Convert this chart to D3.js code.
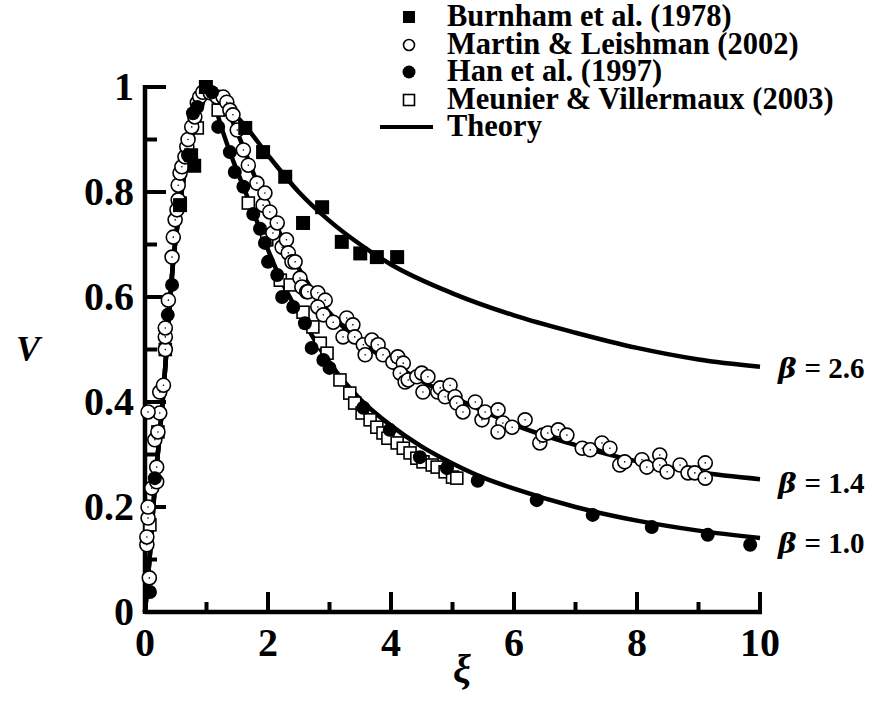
<!DOCTYPE html>
<html><head><meta charset="utf-8">
<script src="https://cdn.jsdelivr.net/npm/d3@7"></script>
<style>
body{margin:0;background:#fff;}
text{font-family:"Liberation Serif","Times New Roman",serif;font-weight:bold;fill:#000;}
</style></head>
<body><svg id="c" width="880" height="709"></svg>
<script>
// ---- data (ξ, V) ----
const xTicks = [0,2,4,6,8,10];
const yTicks = [0,0.2,0.4,0.6,0.8,1];
const yTickLabels = ["0","0.2","0.4","0.6","0.8","1"];

const theoryRise = [[0,0],[0.08,0.11],[0.16,0.24],[0.24,0.34],[0.3,0.42],[0.35,0.5],[0.4,0.58],[0.46,0.67],[0.52,0.73],[0.57,0.78],[0.65,0.84],[0.73,0.89],[0.85,0.95],[0.95,0.99],[1,1]];
const theoryB26 = [[1.2,0.975],[1.6,0.93],[2.0,0.87],[2.5,0.80],[3.0,0.745],[3.5,0.70],[4,0.662],[5,0.607],[6,0.565],[7,0.532],[8,0.503],[9,0.481],[10,0.467]];
const theoryB14 = [[1.2,0.975],[1.4,0.94],[1.6,0.885],[1.8,0.825],[2.0,0.77],[2.2,0.72],[2.4,0.675],[2.6,0.635],[2.8,0.6],[3,0.57],[3.5,0.515],[4,0.475],[4.5,0.44],[5,0.41],[5.5,0.383],[6,0.357],[7,0.318],[8,0.287],[9,0.266],[10,0.253]];
const theoryB10 = [[1.1,0.985],[1.2,0.94],[1.4,0.87],[1.6,0.81],[1.8,0.75],[2.0,0.69],[2.2,0.635],[2.4,0.59],[2.6,0.55],[2.8,0.51],[3,0.475],[3.5,0.405],[4,0.355],[4.5,0.315],[5,0.283],[5.5,0.256],[6,0.235],[7,0.2],[8,0.174],[9,0.155],[10,0.141]];
const betaLabels = ["2.6","1.4","1.0"];

const burnham = [[0.57,0.775],[0.75,0.87],[0.8,0.85],[0.99,1.0],[1.63,0.922],[1.92,0.876],[2.28,0.829],[2.57,0.741],[2.88,0.771],[3.2,0.705],[3.5,0.683],[3.77,0.676],[4.1,0.676]];

const martin = [[0.07,0.065],[0.03,0.128],[0.03,0.143],[0.05,0.179],[0.05,0.2],[0.11,0.236],[0.19,0.248],[0.19,0.276],[0.16,0.328],[0.21,0.343],[0.24,0.379],[0.05,0.381],[0.24,0.419],[0.3,0.432],[0.33,0.5],[0.33,0.524],[0.33,0.541],[0.38,0.594],
[0.44,0.676],[0.46,0.714],[0.49,0.747],[0.52,0.766],[0.54,0.785],[0.54,0.813],[0.57,0.836],[0.6,0.848],[0.65,0.867],[0.68,0.886],[0.7,0.9],[0.76,0.924],[0.81,0.943],[0.85,0.97],[0.89,0.981],[0.94,0.99],[1.06,0.989],[1.17,0.981],[1.27,0.981],[1.33,0.971],[1.38,0.956],[1.43,0.947],[1.5,0.918],[1.6,0.88],[1.68,0.851],[1.82,0.817],[1.92,0.775],[1.95,0.798],[2.03,0.762],[2.08,0.722],[2.15,0.741],[2.23,0.695],[2.3,0.709],[2.33,0.684],[2.39,0.667],[2.44,0.667],[2.52,0.636],[2.55,0.619],[2.63,0.61],[2.65,0.61],[2.81,0.608],[2.93,0.594],[2.81,0.581],[2.9,0.566],[3.06,0.552],[3.28,0.56],[3.38,0.547],[3.22,0.524],[3.41,0.524],[3.55,0.509],[3.58,0.49],[3.69,0.518],[3.79,0.509],[3.87,0.49],[4.03,0.476],[4.11,0.486],[4.2,0.474],[4.15,0.455],[4.23,0.438],[4.28,0.442],[4.42,0.448],[4.5,0.455],[4.6,0.448],[4.52,0.419],[4.76,0.419],[4.8,0.427],[4.88,0.41],[4.96,0.432],[5.04,0.41],[5.07,0.398],[5.17,0.381],[5.37,0.4],[5.48,0.366],[5.53,0.381],[5.74,0.385],[5.82,0.36],[5.74,0.343],[5.97,0.352],[6.18,0.366],[6.42,0.322],[6.47,0.337],[6.55,0.341],[6.72,0.347],[6.86,0.337],[7.11,0.312],[7.24,0.309],[7.43,0.322],[7.56,0.312],[7.72,0.28],[7.8,0.286],[8.08,0.29],[8.16,0.276],[8.37,0.299],[8.37,0.28],[8.49,0.267],[8.7,0.28],[8.83,0.265],[8.94,0.265],[9.11,0.284],[9.11,0.255]];

const han = [[0.08,0.038],[0.16,0.255],[0.37,0.566],[0.44,0.623],[0.7,0.87],[0.78,0.95],[0.85,0.962],[1.09,0.99],[1.19,0.924],[1.38,0.876],[1.46,0.838],[1.6,0.81],[1.76,0.758],[1.87,0.73],[1.95,0.703],[2.0,0.667],[2.15,0.642],[2.23,0.6],[2.41,0.581],[2.6,0.55],[2.71,0.503],[2.9,0.48],[3.0,0.465],[3.55,0.389],[3.98,0.347],[4.47,0.295],[4.91,0.274],[5.41,0.25],[6.37,0.213],[7.28,0.185],[8.24,0.162],[9.15,0.147],[9.84,0.128]];

const meunier = [[0.08,0.166],[0.21,0.343],[0.33,0.5],[0.57,0.779],[0.85,0.922],[1.19,0.956],[1.68,0.779],[1.98,0.709],[2.2,0.632],[2.36,0.623],[2.57,0.571],[2.73,0.543],[2.85,0.512],[2.96,0.493],[3.17,0.442],[3.33,0.417],[3.41,0.398],[3.53,0.379],[3.66,0.366],[3.77,0.352],[3.87,0.341],[3.95,0.331],[4.1,0.322],[4.2,0.312],[4.31,0.303],[4.42,0.293],[4.52,0.286],[4.67,0.28],[4.75,0.276],[4.88,0.267],[5.0,0.257],[5.07,0.255]];

const legendLabels = ["Burnham et al. (1978)","Martin & Leishman (2002)","Han et al. (1997)","Meunier & Villermaux (2003)","Theory"];

// ---- drawing ----
const svg = d3.select("#c");
const x = d3.scaleLinear().domain([0,10]).range([145,760]);
const y = d3.scaleLinear().domain([0,1]).range([612,87]);

const line = d3.line().x(d=>x(d[0])).y(d=>y(d[1])).curve(d3.curveMonotoneX);
[theoryB26,theoryB14,theoryB10].forEach(arr=>{
  svg.append("path").attr("d", line(theoryRise.concat(arr)))
    .attr("fill","none").attr("stroke","#000").attr("stroke-width",4.5).attr("stroke-linejoin","round");
});

// axes
const ax = svg.append("g");
ax.append("line").attr("x1",x(0)).attr("x2",x(10)+2).attr("y1",612).attr("y2",612).attr("stroke","#000").attr("stroke-width",4.5);
ax.append("line").attr("x1",x(0)).attr("x2",x(0)).attr("y1",614).attr("y2",y(1)-2).attr("stroke","#000").attr("stroke-width",4.5);
d3.range(1,11,1).forEach(v=>{
  const len = (v%2===0)?20:10;
  ax.append("line").attr("x1",x(v)).attr("x2",x(v)).attr("y1",612).attr("y2",612-len).attr("stroke","#000").attr("stroke-width",4);
});
d3.range(1,11,1).forEach(i=>{
  const v=i/10; const len = (i%2===0)?21:12;
  ax.append("line").attr("x1",x(0)).attr("x2",x(0)+len).attr("y1",y(v)).attr("y2",y(v)).attr("stroke","#000").attr("stroke-width",4);
});
xTicks.forEach(v=>{
  ax.append("text").attr("x",x(v)).attr("y",656).attr("text-anchor","middle").attr("font-size",40).text(v);
});
yTicks.forEach((v,i)=>{
  ax.append("text").attr("x",134).attr("y",y(v)+13).attr("text-anchor","end").attr("font-size",40).text(yTickLabels[i]);
});
svg.append("text").attr("x",28).attr("y",361).attr("text-anchor","middle").attr("font-size",36).attr("font-style","italic").text("V");
svg.append("text").attr("x",462).attr("y",682).attr("text-anchor","middle").attr("font-size",40).attr("font-style","italic").text("ξ");

// markers
const pts = svg.append("g");
pts.selectAll(".mv").data(meunier).join("rect").attr("x",d=>x(d[0])-6).attr("y",d=>y(d[1])-6).attr("width",12).attr("height",12)
  .attr("fill","#fff").attr("stroke","#000").attr("stroke-width",1.6);
pts.selectAll(".ml").data(martin).join("g").each(function(d){
  const g=d3.select(this);
  g.append("circle").attr("cx",x(d[0])).attr("cy",y(d[1])).attr("r",7).attr("fill","#fff").attr("stroke","#000").attr("stroke-width",1.6);
  g.append("circle").attr("cx",x(d[0])).attr("cy",y(d[1])).attr("r",0.8).attr("fill","#000");
});
pts.selectAll(".han").data(han).join("circle").attr("cx",d=>x(d[0])).attr("cy",d=>y(d[1])).attr("r",7).attr("fill","#000");
pts.selectAll(".bu").data(burnham).join("rect").attr("x",d=>x(d[0])-7).attr("y",d=>y(d[1])-7).attr("width",14).attr("height",14).attr("fill","#000");

// beta labels
const ends=[theoryB26,theoryB14,theoryB10];
ends.forEach((arr,i)=>{
  const yy = y(arr[arr.length-1][1]) + [1,4,5][i];
  const t = svg.append("text").attr("x",778).attr("y",yy+10).attr("font-size",29);
  t.append("tspan").attr("font-style","italic").attr("font-family","'DejaVu Serif',serif").attr("font-size",28).text("β");
  t.append("tspan").attr("dx",8).text("= "+betaLabels[i]);
});

// legend
const lg = svg.append("g");
const ly = [17,45,72,100,127];
lg.append("rect").attr("x",403).attr("y",ly[0]-6).attr("width",12).attr("height",12).attr("fill","#000");
lg.append("circle").attr("cx",409).attr("cy",ly[1]).attr("r",5.5).attr("fill","#fff").attr("stroke","#000").attr("stroke-width",1.6);
lg.append("circle").attr("cx",409).attr("cy",ly[2]).attr("r",6.5).attr("fill","#000");
lg.append("rect").attr("x",403.5).attr("y",ly[3]-5.5).attr("width",11).attr("height",11).attr("fill","#fff").attr("stroke","#000").attr("stroke-width",1.6);
lg.append("line").attr("x1",380).attr("x2",433).attr("y1",ly[4]).attr("y2",ly[4]).attr("stroke","#000").attr("stroke-width",4);
legendLabels.forEach((s,i)=>{
  lg.append("text").attr("x",447).attr("y",ly[i]+9).attr("font-size",30.5).text(s);
});
</script></body></html>
